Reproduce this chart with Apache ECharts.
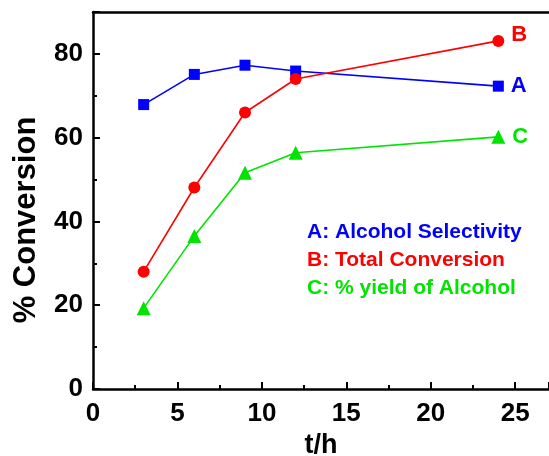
<!DOCTYPE html>
<html>
<head>
<meta charset="utf-8">
<script src="https://cdn.jsdelivr.net/npm/echarts@6/dist/echarts.min.js"></script>
<style>
  html, body { margin: 0; padding: 0; background: #fff; }
  #chart { width: 549px; height: 456px; }
</style>
</head>
<body>
<div id="chart"></div>
<script>
// Reaction time in hours
const hours = [3, 6, 9, 12, 24];
// A: alcohol selectivity (%)
const selectivity = [67.9, 75.1, 77.3, 75.9, 72.3];
// B: total conversion (%)
const conversion = [28.0, 48.1, 66.0, 74.0, 83.1];
// C: yield of alcohol (%)
const alcoholYield = [19.3, 36.5, 51.6, 56.4, 60.2];

const seriesNames = ['A', 'B', 'C'];
const legendLines = ['A: Alcohol Selectivity', 'B: Total Conversion', 'C: % yield of Alcohol'];
const colors = ['#0000ff', '#ff0000', '#00e400'];

const font = 'Liberation Sans, Arial, sans-serif';

function pairs(ys) { return hours.map((h, i) => [h, ys[i]]); }

function makeSeries(name, ys, symbol, size, color, labelOffset) {
  const data = pairs(ys);
  return {
    name: name,
    type: 'line',
    data: data.map((p, i) => i === data.length - 1
      ? { value: p, label: { show: true } }
      : p),
    symbol: symbol,
    symbolSize: size,
    showAllSymbol: true,
    lineStyle: { color: color, width: 1.6 },
    itemStyle: { color: color },
    label: {
      show: false,
      position: 'right',
      distance: 7,
      offset: labelOffset,
      formatter: name,
      color: color,
      fontFamily: font,
      fontWeight: 'bold',
      fontSize: 22
    },
    animation: false,
    z: 3
  };
}

const chart = echarts.init(document.getElementById('chart'), null, { renderer: 'canvas' });

const axisCommon = {
  axisLine: { show: true, onZero: false, lineStyle: { color: '#000', width: 2.5 } },
  splitLine: { show: false }
};

chart.setOption({
  backgroundColor: '#fff',
  animation: false,
  grid: {
    left: 93, right: 0, top: 12, bottom: 67,
    containLabel: false,
    outerBoundsMode: 'none'
  },
  xAxis: [
    Object.assign({}, axisCommon, {
      type: 'value',
      min: 0, max: 27, interval: 5,
      position: 'bottom',
      axisTick: { show: true, inside: true, length: 7, lineStyle: { color: '#000', width: 2 } },
      minorTick: { show: true, splitNumber: 2, length: 4, lineStyle: { color: '#000', width: 2 } },
      axisLabel: {
        color: '#000', fontFamily: font, fontWeight: 'bold', fontSize: 26, margin: 12,
        showMaxLabel: false
      },
      name: 't/h',
      nameLocation: 'middle',
      nameGap: 42,
      nameTextStyle: { color: '#000', fontFamily: font, fontWeight: 'bold', fontSize: 27 }
    }),
    Object.assign({}, axisCommon, {
      type: 'value',
      min: 0, max: 27,
      position: 'top',
      axisTick: { show: false },
      axisLabel: { show: false }
    })
  ],
  yAxis: Object.assign({}, axisCommon, {
    type: 'value',
    min: 0, max: 90, interval: 20,
    axisTick: { show: true, inside: true, length: 7, lineStyle: { color: '#000', width: 2 } },
    minorTick: { show: true, splitNumber: 2, length: 4, lineStyle: { color: '#000', width: 2 } },
    axisLabel: {
      color: '#000', fontFamily: font, fontWeight: 'bold', fontSize: 26, margin: 10,
      showMaxLabel: false
    }
  }),
  series: [
    makeSeries(seriesNames[0], selectivity, 'rect', 11, colors[0], [0, 0]),
    makeSeries(seriesNames[1], conversion, 'circle', 12, colors[1], [0, -6]),
    makeSeries(seriesNames[2], alcoholYield, 'triangle', 14, colors[2], [0, 0])
  ],
  graphic: [
    // y-axis title
    {
      type: 'text',
      x: 26,
      y: 220,
      rotation: Math.PI / 2,
      style: {
        text: '% Conversion',
        fill: '#000',
        font: 'bold 31px ' + font,
        align: 'center',
        verticalAlign: 'middle'
      }
    }
  ].concat(legendLines.map((t, i) => ({
    type: 'text',
    x: 307,
    y: 232 + i * 28,
    style: {
      text: t,
      fill: colors[i],
      font: 'bold 21px ' + font,
      align: 'left',
      verticalAlign: 'middle'
    },
    z: 10
  })))
});
</script>
</body>
</html>
